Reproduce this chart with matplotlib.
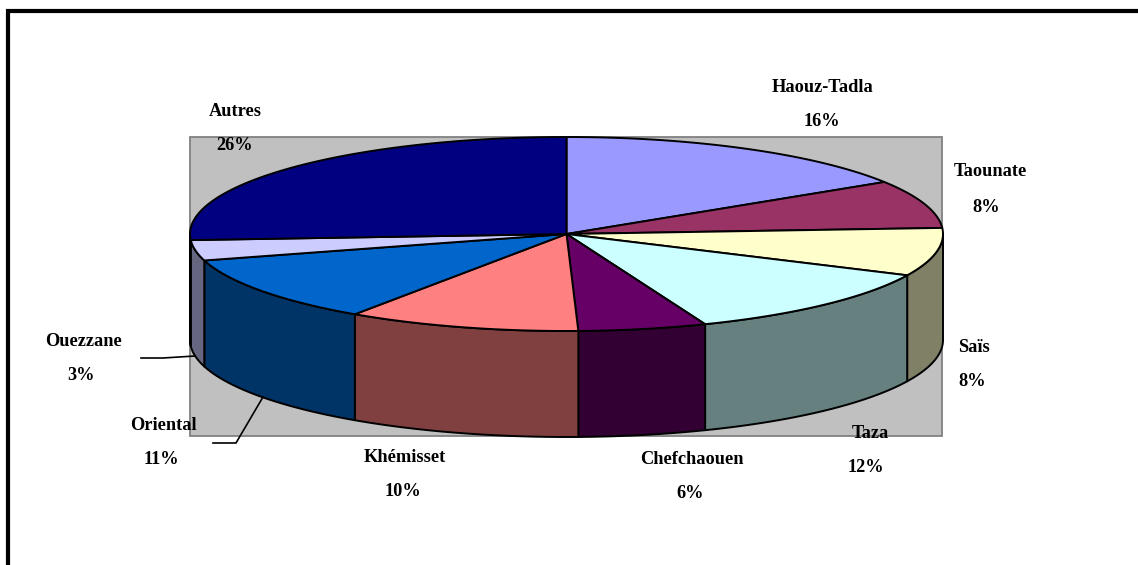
import numpy as np
import matplotlib
matplotlib.use("Agg")
import matplotlib.pyplot as plt

categories = ["Haouz-Tadla", "Taounate", "Saïs", "Taza", "Chefchaouen",
              "Khémisset", "Oriental", "Ouezzane", "Autres"]
values = [16, 8, 8, 12, 5.5, 10, 11.1, 3.4, 26]
colors = ["#9999FF", "#993366", "#FFFFCC", "#CCFFFF", "#660066",
          "#FF8080", "#0066CC", "#CCCCFF", "#000080"]
wall_colors = ["#4D4D80", "#4D1A33", "#808066", "#668080", "#330033",
               "#804040", "#003366", "#666680", "#000040"]

# Layout (pixels)
CX, CY, RX, RY, DEPTH = 566.5, 234.0, 376.5, 97.0, 106.0
label_xy = [(823, 88), (990, 172), (974, 347), (870, 433), (692, 459),
            (405, 457), (163, 425), (84, 341), (235, 112)]
pct_xy = [(822, 122), (986, 207), (972, 381), (866, 468), (690, 494),
          (403, 492), (161, 459), (81, 376), (235, 146)]
leaders = {"Ouezzane": [(141, 358), (163, 358), (195, 356)],
           "Oriental": [(213, 443), (236, 443), (263, 397)]}

fig = plt.figure(figsize=(11.38, 5.65), dpi=100, facecolor="white")
ax = fig.add_axes([0, 0, 1, 1])
ax.set_xlim(0, 1138)
ax.set_ylim(565, 0)
ax.axis("off")

# Outer frame
ax.plot([8, 8, 1138], [565, 11, 11], color="black", lw=3, solid_joinstyle="miter",
        solid_capstyle="butt", zorder=1)

# Plot area
ax.fill([190.5, 942, 942, 190.5], [137, 137, 436, 436],
        facecolor="#C0C0C0", edgecolor="#808080", lw=1.3, zorder=1)


def arc(a0, a1, dy=0.0):
    t = np.radians(np.linspace(a0, a1, max(int(abs(a1 - a0) * 3), 2)))
    return CX + RX * np.sin(t), CY - RY * np.cos(t) + dy


edges = np.concatenate([[0], np.cumsum(values)]) / np.sum(values) * 360

# Outer walls (front half only)
for a0, a1, wc in zip(edges[:-1], edges[1:], wall_colors):
    lo, hi = max(a0, 90), min(a1, 270)
    if hi <= lo:
        continue
    xt, yt = arc(lo, hi)
    xb, yb = arc(hi, lo, DEPTH)
    ax.fill(np.r_[xt, xb], np.r_[yt, yb], facecolor=wc, edgecolor="black",
            lw=1.4, joinstyle="round", zorder=2)

# Top faces
for a0, a1, c in zip(edges[:-1], edges[1:], colors):
    x, y = arc(a0, a1)
    ax.fill(np.r_[CX, x], np.r_[CY, y], facecolor=c, edgecolor="black",
            lw=1.4, joinstyle="round", zorder=3)

# Leader lines
for pts in leaders.values():
    xs, ys = zip(*pts)
    ax.plot(xs, ys, color="black", lw=1.2, zorder=4)

# Labels
font = dict(family="Liberation Serif", fontweight="bold", fontsize=13.2,
            ha="center", va="center", color="black", zorder=5)
for name, v, p, q in zip(categories, values, label_xy, pct_xy):
    ax.text(p[0], p[1], name, **font)
    ax.text(q[0], q[1], f"{round(v)}%", **font)

fig.savefig("out.png", dpi=100, facecolor="white")
